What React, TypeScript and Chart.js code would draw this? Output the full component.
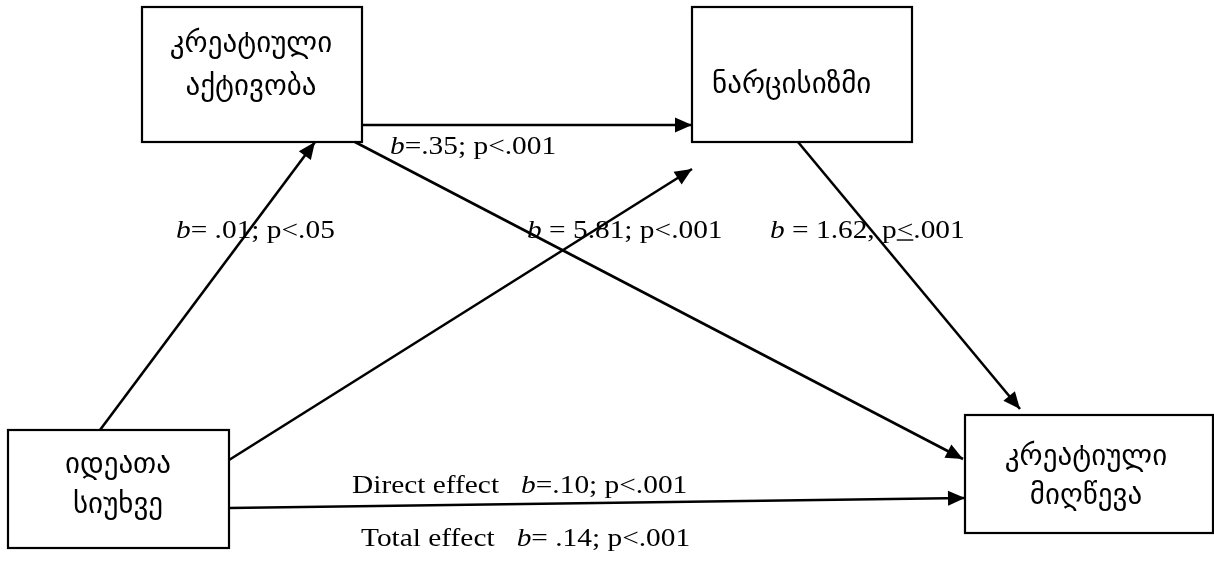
import React, { useEffect, useRef } from "react";
import { Chart, registerables } from "chart.js";

Chart.register(...registerables);

// ---- Diagram data (in diagram units: x 0..1214 left→right, y 0..561 top→bottom) ----
const nodeLabels: string[][] = [
  ["კრეატიული", "აქტივობა"],
  ["ნარცისიზმი"],
  ["იდეათა", "სიუხვე"],
  ["კრეატიული", "მიღწევა"],
];
const nodeLeft = [142, 692, 8, 965];
const nodeRight = [362, 912, 229, 1213];
const nodeTop = [7, 7, 430, 415];
const nodeBottom = [142, 142, 548, 533];
const nodeTextX = [251, 712, 118, 1086];
const nodeTextAlign = ["center", "left", "center", "center"];
const nodeTextY = [[44, 87], [85], [465, 505], [457, 496]];

const edgeFromX = [100, 229, 355, 362, 798, 229];
const edgeFromY = [430, 460, 142, 125, 142, 508];
const edgeToX = [315, 692, 963, 692, 1020, 965];
const edgeToY = [142, 169, 459, 125, 409, 498];

// {..} = italic, [..] = underlined
const pathLabels = [
  "{b}=.35; p<.001",
  "{b}= .01; p<.05",
  "{b} = 5.81; p<.001",
  "{b} = 1.62, p[<].001",
  "Direct effect   {b}=.10; p<.001",
  "Total effect   {b}= .14; p<.001",
];
const labelX = [390, 176, 527, 770, 352, 361];
const labelY = [147, 231, 231, 231, 486, 539];

const LABEL_FONT = "Liberation Serif, 'Times New Roman', serif";
const LABEL_SIZE = 26;
const LABEL_STRETCH = 1.13;
const NODE_FONT = "'DejaVu Sans', sans-serif";
const NODE_SIZE = 29;

type Seg = { t: string; i: boolean; u: boolean };
function parseRich(s: string): Seg[] {
  const out: Seg[] = [];
  let cur = "";
  let it = false;
  let un = false;
  for (const ch of s) {
    if (ch === "{" || ch === "}" || ch === "[" || ch === "]") {
      if (cur) out.push({ t: cur, i: it, u: un });
      cur = "";
      if (ch === "{") it = true;
      if (ch === "}") it = false;
      if (ch === "[") un = true;
      if (ch === "]") un = false;
    } else cur += ch;
  }
  if (cur) out.push({ t: cur, i: it, u: un });
  return out;
}

const diagramPlugin = {
  id: "diagram",
  afterDatasetsDraw(chart: any) {
    const { ctx, scales } = chart;
    const px = (v: number) => scales.x.getPixelForValue(v);
    const py = (v: number) => scales.y.getPixelForValue(v);
    ctx.save();
    ctx.strokeStyle = "#000";
    ctx.fillStyle = "#000";
    ctx.lineWidth = 2.2;
    // boxes
    nodeLeft.forEach((l, i) => {
      const x0 = px(l), x1 = px(nodeRight[i]);
      const y0 = py(nodeTop[i]), y1 = py(nodeBottom[i]);
      ctx.strokeRect(x0, y0, x1 - x0, y1 - y0);
    });
    // node text
    ctx.font = `${NODE_SIZE}px ${NODE_FONT}`;
    ctx.textBaseline = "middle";
    nodeLabels.forEach((lines, i) => {
      ctx.textAlign = nodeTextAlign[i];
      lines.forEach((ln, j) => {
        ctx.fillText(ln, px(nodeTextX[i]), py(nodeTextY[i][j]));
      });
    });
    // arrowheads
    edgeToX.forEach((tx, i) => {
      const x2 = px(tx), y2 = py(edgeToY[i]);
      const x1 = px(edgeFromX[i]), y1 = py(edgeFromY[i]);
      const a = Math.atan2(y2 - y1, x2 - x1);
      const len = 17, hw = 7.5;
      ctx.beginPath();
      ctx.moveTo(x2, y2);
      ctx.lineTo(x2 - len * Math.cos(a) + hw * Math.sin(a), y2 - len * Math.sin(a) - hw * Math.cos(a));
      ctx.lineTo(x2 - len * Math.cos(a) - hw * Math.sin(a), y2 - len * Math.sin(a) + hw * Math.cos(a));
      ctx.closePath();
      ctx.fill();
    });
    // path labels
    ctx.textAlign = "left";
    ctx.textBaseline = "middle";
    pathLabels.forEach((lab, i) => {
      const segs = parseRich(lab);
      ctx.save();
      ctx.translate(px(labelX[i]), py(labelY[i]));
      ctx.scale(LABEL_STRETCH, 1);
      let cx = 0;
      segs.forEach((s) => {
        ctx.font = `${s.i ? "italic " : ""}${LABEL_SIZE}px ${LABEL_FONT}`;
        ctx.fillText(s.t, cx, 0);
        const w = ctx.measureText(s.t).width;
        if (s.u) {
          ctx.fillRect(cx, LABEL_SIZE * 0.32, w, 1.4);
        }
        cx += w;
      });
      ctx.restore();
    });
    ctx.restore();
  },
};

export default function App() {
  const ref = useRef<HTMLCanvasElement | null>(null);
  useEffect(() => {
    document.body.style.margin = "0";
    const canvas = ref.current;
    if (!canvas) return;
    const datasets = edgeFromX.map((fx, i) => ({
      data: [
        { x: fx, y: edgeFromY[i] },
        { x: edgeToX[i], y: edgeToY[i] },
      ],
      showLine: true,
      borderColor: "#000",
      borderWidth: 2.6,
      pointRadius: 0,
      pointHoverRadius: 0,
      fill: false,
    }));
    const chart = new Chart(canvas, {
      type: "scatter",
      data: { datasets },
      options: {
        animation: false,
        responsive: false,
        maintainAspectRatio: false,
        layout: { padding: 0 },
        events: [],
        plugins: { legend: { display: false }, tooltip: { enabled: false } },
        scales: {
          x: { type: "linear", min: 0, max: 1214, display: false },
          y: { type: "linear", min: 0, max: 561, reverse: true, display: false },
        },
      },
      plugins: [diagramPlugin],
    } as any);
    return () => chart.destroy();
  }, []);
  return (
    <div style={{ width: 1214, height: 561, background: "#fff" }}>
      <canvas ref={ref} width={1214} height={561} style={{ display: "block" }} />
    </div>
  );
}
